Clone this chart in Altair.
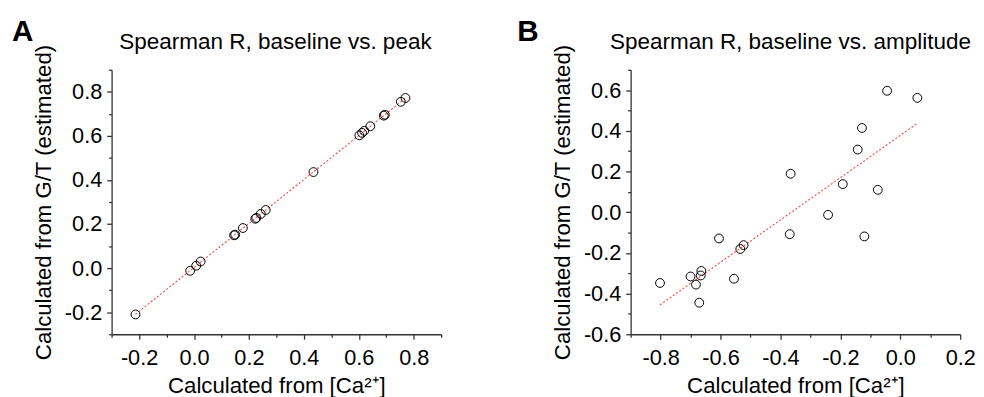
import altair as alt
import pandas as pd

FONT = "Liberation Sans"

# Panel A: baseline vs. peak
a_x = [-0.213, -0.014, 0.008, 0.024, 0.146, 0.150, 0.178, 0.223, 0.227, 0.243,
       0.261, 0.435, 0.602, 0.612, 0.620, 0.642, 0.691, 0.695, 0.753, 0.770]
a_y = [-0.210, -0.012, 0.011, 0.030, 0.149, 0.152, 0.182, 0.224, 0.228, 0.246,
       0.264, 0.436, 0.603, 0.614, 0.623, 0.644, 0.692, 0.696, 0.755, 0.772]

# Panel B: baseline vs. amplitude
b_x = [-0.802, -0.700, -0.682, -0.671, -0.664, -0.666, -0.605, -0.555, -0.534, -0.523,
       -0.369, -0.366, -0.241, -0.192, -0.142, -0.128, -0.120, -0.075, -0.044, 0.057]
b_y = [-0.348, -0.316, -0.356, -0.445, -0.289, -0.311, -0.129, -0.327, -0.181, -0.162,
       -0.108, 0.189, -0.013, 0.138, 0.308, 0.414, -0.119, 0.110, 0.597, 0.562]

a_xdom, a_ydom = [-0.3, 0.9], [-0.3, 0.9]
a_xmaj = [-0.2, 0.0, 0.2, 0.4, 0.6, 0.8]
a_xmin = [-0.3, -0.1, 0.1, 0.3, 0.5, 0.7, 0.9]
a_ymaj = [-0.2, 0.0, 0.2, 0.4, 0.6, 0.8]
a_ymin = [-0.3, -0.1, 0.1, 0.3, 0.5, 0.7, 0.9]

b_xdom, b_ydom = [-0.9, 0.2], [-0.6, 0.7]
b_xmaj = [-0.8, -0.6, -0.4, -0.2, 0.0, 0.2]
b_xmin = [-0.9, -0.7, -0.5, -0.3, -0.1, 0.1]
b_ymaj = [-0.6, -0.4, -0.2, 0.0, 0.2, 0.4, 0.6]
b_ymin = [-0.5, -0.3, -0.1, 0.1, 0.3, 0.5, 0.7]

X_TITLE = "Calculated from [Ca²⁺]"
Y_TITLE = "Calculated from G/T (estimated)"
LABEL_EXPR = "(datum.value < -0.0001 ? '-' : '') + format(abs(datum.value), '.1f')"
AX = "#333333"


def major_axis(values, orient, title, lpad, tpad):
    return alt.Axis(values=values, orient=orient, title=title, grid=False,
                    labelExpr=LABEL_EXPR, labelFont=FONT, labelFontSize=22,
                    labelColor="black", titleFont=FONT, titleFontSize=22.5,
                    titleFontWeight="normal", titleColor="black",
                    domainColor=AX, domainWidth=1.3, tickColor=AX, tickWidth=1.3,
                    tickSize=5, labelPadding=lpad, titlePadding=tpad,
                    labelFlush=False, labelOverlap=False)


def minor_axis(values, orient):
    return alt.Axis(values=values, orient=orient, title=None, grid=False,
                    labels=False, domain=False, tickColor=AX, tickWidth=1.3,
                    tickSize=3)


def panel(xs, ys, xdom, ydom, xmaj, xmin, ymaj, ymin, title, tdx, letter, ldx):
    df = pd.DataFrame({"x": xs, "y": ys})
    xs_ = alt.Scale(domain=xdom, nice=False, zero=False)
    ys_ = alt.Scale(domain=ydom, nice=False, zero=False)
    base = alt.Chart(df)
    minor = base.mark_point(opacity=0).encode(
        x=alt.X("x:Q", scale=xs_, axis=minor_axis(xmin, "bottom")),
        y=alt.Y("y:Q", scale=ys_, axis=minor_axis(ymin, "left")),
    )
    reg = base.transform_regression("x", "y").mark_line(
        color="#ff2020", strokeDash=[2, 2], strokeWidth=1.1, opacity=0.85
    ).encode(
        x=alt.X("x:Q", scale=xs_, axis=None),
        y=alt.Y("y:Q", scale=ys_, axis=None),
    )
    pts = base.mark_point(shape="circle", filled=False, color="black",
                          size=80, strokeWidth=1, opacity=1).encode(
        x=alt.X("x:Q", scale=xs_, axis=major_axis(xmaj, "bottom", X_TITLE, 9, 6)),
        y=alt.Y("y:Q", scale=ys_, axis=major_axis(ymaj, "left", Y_TITLE, 5, 9)),
    )
    txt = pd.DataFrame({"t": [letter, title]})
    lab = alt.Chart(txt).transform_filter(f"datum.t == '{letter}'").mark_text(
        font=FONT, fontSize=30, fontWeight="bold", align="left",
        baseline="alphabetic", color="black"
    ).encode(x=alt.value(ldx), y=alt.value(-29), text="t:N")
    ttl = alt.Chart(txt).transform_filter(f"datum.t != '{letter}'").mark_text(
        font=FONT, fontSize=22.8, fontWeight="normal", align="center",
        baseline="alphabetic", color="black"
    ).encode(x=alt.value(tdx), y=alt.value(-21), text="t:N")
    return alt.layer(minor, reg, pts, lab, ttl).resolve_axis(
        x="independent", y="independent"
    ).properties(width=334, height=268)


pa = panel(a_x, a_y, a_xdom, a_ydom, a_xmaj, a_xmin, a_ymaj, a_ymin,
           "Spearman R, baseline vs. peak", 166, "A", -101)
pb = panel(b_x, b_y, b_xdom, b_ydom, b_xmaj, b_xmin, b_ymaj, b_ymin,
           "Spearman R, baseline vs. amplitude", 162, "B", -115)

chart = alt.hconcat(pa, pb, spacing=76).properties(
    padding={"left": 4, "top": 7, "right": 0, "bottom": 0}
).configure_view(stroke=None).configure_axis(labelFontSize=22, labelFont=FONT)

chart.save("out.html", embed_options={"renderer": "svg", "actions": False})
